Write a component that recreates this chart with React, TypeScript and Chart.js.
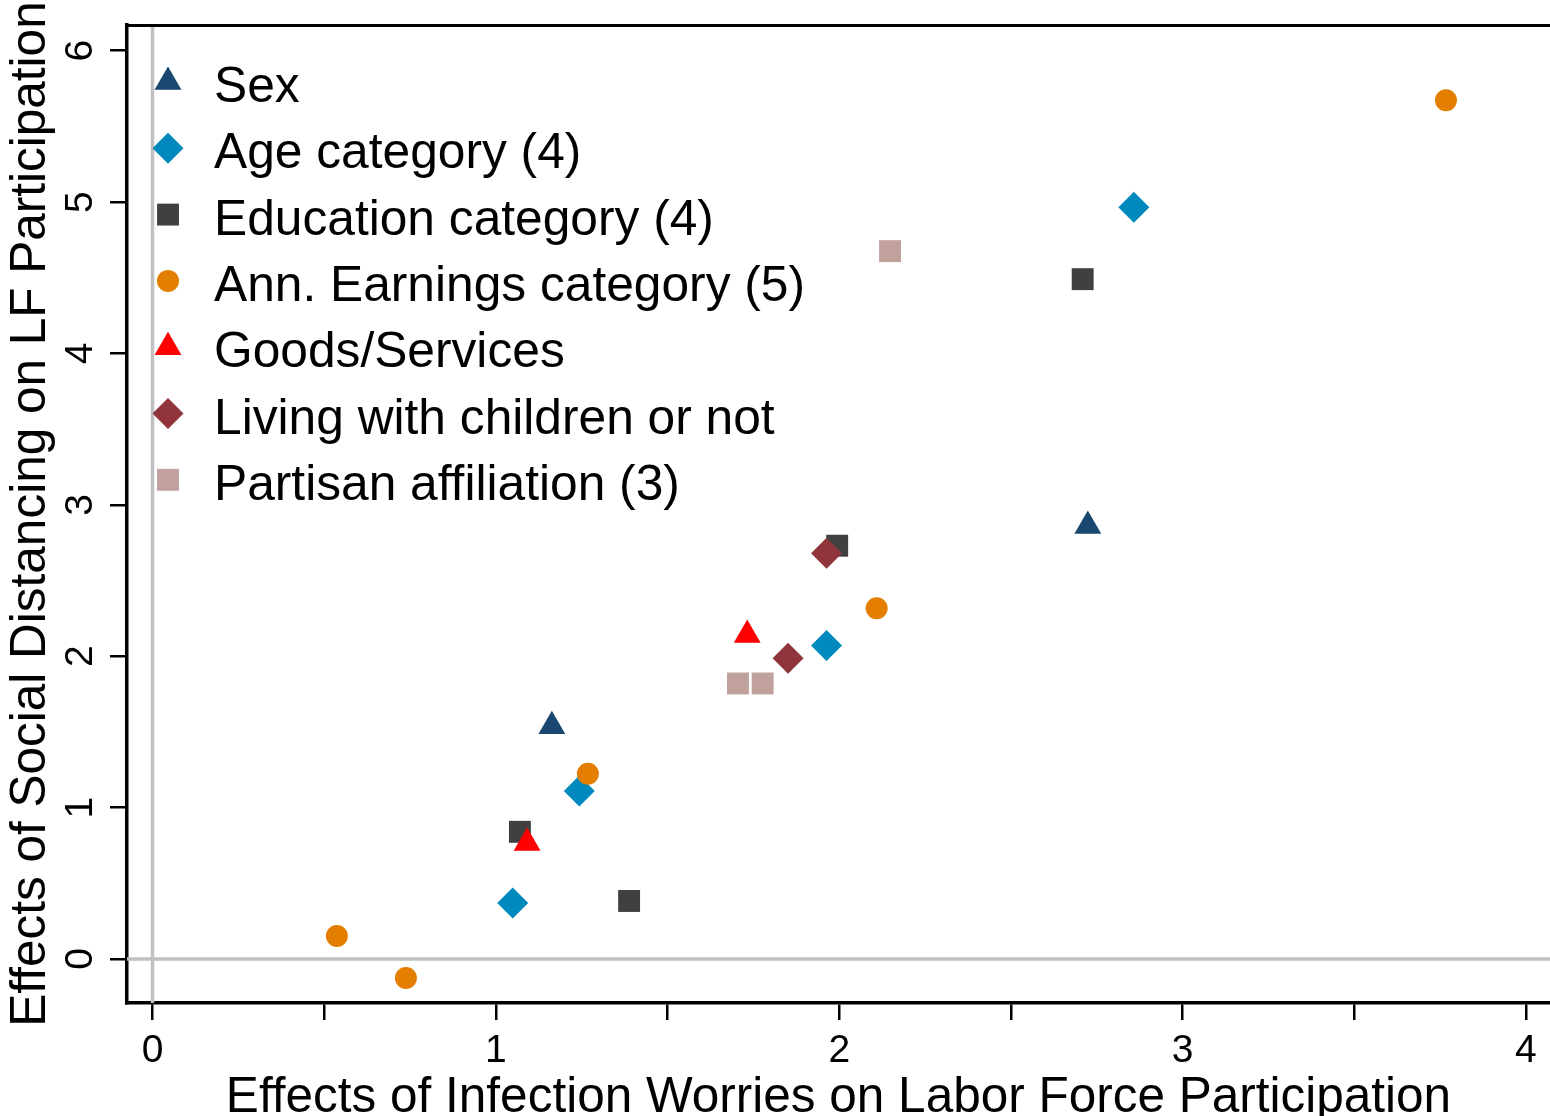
import React, { useEffect, useRef } from 'react';
import { Chart, registerables } from 'chart.js';

Chart.register(...registerables);

// ---------- data ----------
const SERIES_NAMES = [
  'Sex',
  'Age category (4)',
  'Education category (4)',
  'Ann. Earnings category (5)',
  'Goods/Services',
  'Living with children or not',
  'Partisan affiliation (3)',
];

const sexX = [1.163, 2.724];
const sexY = [1.538, 2.86];
const ageX = [1.049, 1.243, 1.963, 2.858];
const ageY = [0.37, 1.11, 2.07, 4.966];
const eduX = [1.07, 1.388, 1.994, 2.709];
const eduY = [0.84, 0.383, 2.73, 4.491];
const earnX = [0.537, 0.738, 1.268, 2.109, 3.767];
const earnY = [0.152, -0.126, 1.224, 2.317, 5.673];
const goodsX = [1.091, 1.732];
const goodsY = [0.766, 2.14];
const kidsX = [1.851, 1.963];
const kidsY = [1.986, 2.681];
const partyX = [1.705, 1.777, 2.148];
const partyY = [1.82, 1.82, 4.676];

const SERIES_X = [sexX, ageX, eduX, earnX, goodsX, kidsX, partyX];
const SERIES_Y = [sexY, ageY, eduY, earnY, goodsY, kidsY, partyY];

const X_TICKS = [0, 0.5, 1, 1.5, 2, 2.5, 3, 3.5, 4];
const X_LABELS = ['0', '', '1', '', '2', '', '3', '', '4'];
const Y_TICKS = [0, 1, 2, 3, 4, 5, 6];
const Y_LABELS = ['0', '1', '2', '3', '4', '5', '6'];

const X_TITLE = 'Effects of Infection Worries on Labor Force Participation';
const Y_TITLE = 'Effects of Social Distancing on LF Participation';

// ---------- styles ----------
const COLORS = ['#1a476f', '#0089bd', '#404040', '#e47e00', '#ff0000', '#90353b', '#c0a19c'];
const SHAPES = ['triangle', 'rectRot', 'rect', 'circle', 'triangle', 'rectRot', 'rect'];
const RADII = [15.5, 15.5, 15.5, 11, 15.5, 15.5, 15.5];

const FONT = '"Liberation Sans", Arial, Helvetica, sans-serif';

function drawMarker(ctx: CanvasRenderingContext2D, shape: string, x: number, y: number, r: number, color: string) {
  ctx.save();
  ctx.fillStyle = color;
  ctx.beginPath();
  if (shape === 'circle') {
    ctx.arc(x, y, r, 0, Math.PI * 2);
  } else if (shape === 'rect') {
    const s = Math.SQRT1_2 * r;
    ctx.rect(x - s, y - s, 2 * s, 2 * s);
  } else if (shape === 'rectRot') {
    ctx.moveTo(x, y - r);
    ctx.lineTo(x + r, y);
    ctx.lineTo(x, y + r);
    ctx.lineTo(x - r, y);
    ctx.closePath();
  } else if (shape === 'triangle') {
    const a = (2 * Math.PI) / 3;
    ctx.moveTo(x, y - r);
    ctx.lineTo(x + Math.sin(a) * r, y - Math.cos(a) * r);
    ctx.lineTo(x + Math.sin(2 * a) * r, y - Math.cos(2 * a) * r);
    ctx.closePath();
  }
  ctx.fill();
  ctx.restore();
}

const decorPlugin = {
  id: 'decor',
  beforeDatasetsDraw(chart: any) {
    const { ctx, chartArea, scales } = chart;
    const x0 = scales.x.getPixelForValue(0);
    const y0 = scales.y.getPixelForValue(0);
    ctx.save();
    ctx.strokeStyle = '#c0c0c0';
    ctx.lineWidth = 3.5;
    ctx.beginPath();
    ctx.moveTo(x0, chartArea.top);
    ctx.lineTo(x0, chartArea.bottom);
    ctx.moveTo(chartArea.left, y0);
    ctx.lineTo(chartArea.right, y0);
    ctx.stroke();
    ctx.restore();
  },
  afterDraw(chart: any) {
    const { ctx, chartArea, scales } = chart;
    ctx.save();
    // top frame line
    ctx.strokeStyle = '#000';
    ctx.lineWidth = 3;
    ctx.beginPath();
    ctx.moveTo(chartArea.left - 1.5, chartArea.top + 0.5);
    ctx.lineTo(chartArea.right, chartArea.top + 0.5);
    ctx.stroke();

    ctx.fillStyle = '#000';
    // x tick labels
    ctx.font = `39px ${FONT}`;
    ctx.textAlign = 'center';
    ctx.textBaseline = 'alphabetic';
    X_TICKS.forEach((v, i) => {
      if (!X_LABELS[i]) return;
      ctx.fillText(X_LABELS[i], scales.x.getPixelForValue(v), 1062);
    });
    // y tick labels (rotated)
    Y_TICKS.forEach((v, i) => {
      const py = scales.y.getPixelForValue(v);
      ctx.save();
      ctx.translate(92, py);
      ctx.rotate(-Math.PI / 2);
      ctx.fillText(Y_LABELS[i], 0, 0);
      ctx.restore();
    });
    // axis titles
    ctx.font = `49.5px ${FONT}`;
    ctx.fillText(X_TITLE, (chartArea.left + chartArea.right) / 2, 1112);
    ctx.save();
    ctx.translate(45, (chartArea.top + chartArea.bottom) / 2);
    ctx.rotate(-Math.PI / 2);
    ctx.fillText(Y_TITLE, 0, 0);
    ctx.restore();

    // legend
    ctx.font = `49.7px ${FONT}`;
    ctx.textAlign = 'left';
    SERIES_NAMES.forEach((name, i) => {
      const my = 82 + 66.3 * i;
      drawMarker(ctx, SHAPES[i], 168, my, RADII[i], COLORS[i]);
      ctx.fillStyle = '#000';
      ctx.fillText(name, 214, 102 + 66.3 * i);
    });
    ctx.restore();
  },
};

export default function App() {
  const canvasRef = useRef<HTMLCanvasElement | null>(null);

  useEffect(() => {
    const canvas = canvasRef.current;
    if (!canvas) return;
    const datasets = SERIES_NAMES.map((name, i) => ({
      label: name,
      data: SERIES_X[i].map((x, j) => ({ x, y: SERIES_Y[i][j] })),
      pointStyle: SHAPES[i],
      pointRadius: RADII[i],
      pointHoverRadius: RADII[i],
      pointBackgroundColor: COLORS[i],
      pointBorderWidth: 0,
      backgroundColor: COLORS[i],
      borderColor: COLORS[i],
      borderWidth: 0,
      order: -i,
    }));
    const chart = new Chart(canvas, {
      type: 'scatter',
      data: { datasets },
      options: {
        responsive: false,
        animation: false,
        devicePixelRatio: 1,
        layout: { autoPadding: false, padding: { top: 25, right: 0, left: 0, bottom: 0 } },
        plugins: {
          legend: { display: false },
          tooltip: { enabled: false },
        },
        scales: {
          x: {
            type: 'linear',
            min: -0.0743,
            max: 4.07,
            afterBuildTicks: (scale: any) => {
              scale.ticks = X_TICKS.map((v) => ({ value: v }));
            },
            afterFit: (scale: any) => {
              scale.height = 113;
            },
            ticks: { display: false },
            grid: {
              drawOnChartArea: false,
              drawTicks: true,
              tickLength: 17,
              color: '#000',
              lineWidth: 2.5,
            },
            border: { display: true, color: '#000', width: 3.5 },
          },
          y: {
            type: 'linear',
            min: -0.291,
            max: 6.17,
            afterBuildTicks: (scale: any) => {
              scale.ticks = Y_TICKS.map((v) => ({ value: v }));
            },
            afterFit: (scale: any) => {
              scale.width = 127;
            },
            ticks: { display: false },
            grid: {
              drawOnChartArea: false,
              drawTicks: true,
              tickLength: 17,
              color: '#000',
              lineWidth: 2.5,
            },
            border: { display: true, color: '#000', width: 3.5 },
          },
        },
      },
      plugins: [decorPlugin],
    });
    return () => chart.destroy();
  }, []);

  return (
    <div style={{ position: 'absolute', left: 0, top: 0, width: 1550, height: 1116, background: '#fff' }}>
      <canvas ref={canvasRef} width={1550} height={1116} style={{ display: 'block' }} />
    </div>
  );
}
